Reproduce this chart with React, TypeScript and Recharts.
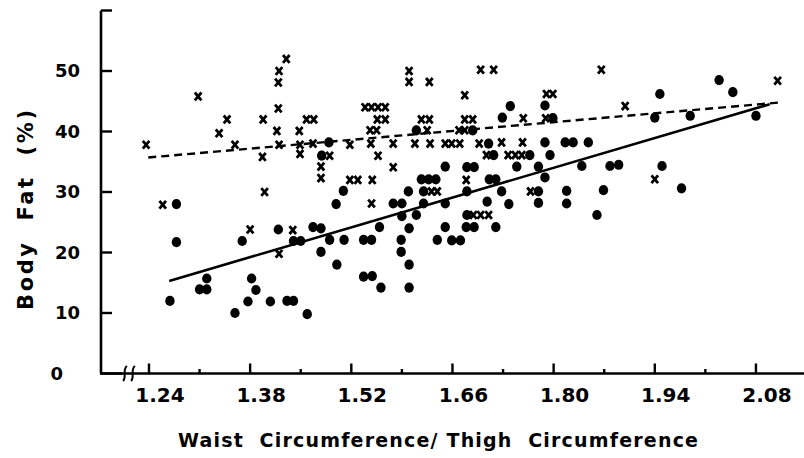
import React from 'react';
import { ScatterChart, Scatter, XAxis, YAxis, ReferenceLine, Customized } from 'recharts';

const xTicks = [1.24, 1.31, 1.38, 1.45, 1.52, 1.59, 1.66, 1.73, 1.8, 1.87, 1.94, 2.01, 2.08];
const xTickLabels = ['1.24', '', '1.38', '', '1.52', '', '1.66', '', '1.80', '', '1.94', '', '2.08'];
const yTicks = [0, 10, 20, 30, 40, 50, 60];
const yTickLabels = ['0', '10', '20', '30', '40', '50', ''];

// subjects plotted as filled circles: [waist/thigh ratio, body fat %]
const circlePoints: [number, number][] = [
  [1.269, 12.0], [1.278, 28.0], [1.278, 21.7], [1.31, 13.9], [1.32, 13.9], [1.32, 15.7],
  [1.359, 10.0], [1.369, 21.9], [1.377, 11.9], [1.382, 15.7], [1.388, 13.8], [1.408, 11.9],
  [1.419, 23.8], [1.431, 12.0], [1.44, 12.0], [1.44, 21.9], [1.45, 21.9], [1.459, 9.8],
  [1.467, 24.2], [1.478, 24.0], [1.478, 20.1], [1.479, 36.0], [1.489, 38.2], [1.49, 22.1],
  [1.499, 28.0], [1.5, 18.0], [1.509, 30.2], [1.51, 22.1], [1.537, 22.1], [1.548, 22.1],
  [1.537, 16.0], [1.549, 16.1], [1.559, 24.2], [1.561, 14.2], [1.578, 28.1], [1.59, 28.1],
  [1.59, 26.0], [1.589, 22.1], [1.589, 20.1], [1.599, 30.1], [1.6, 24.0], [1.6, 18.0],
  [1.6, 14.2], [1.61, 26.2], [1.61, 40.2], [1.617, 32.1], [1.627, 32.1], [1.637, 32.1],
  [1.62, 30.1], [1.62, 28.1], [1.639, 22.1], [1.65, 34.2], [1.65, 28.1], [1.65, 24.2],
  [1.659, 22.0], [1.671, 22.0], [1.68, 34.1], [1.69, 34.1], [1.68, 30.1], [1.68, 26.2],
  [1.679, 24.2], [1.69, 24.2], [1.688, 40.2], [1.708, 28.4], [1.71, 38.0], [1.711, 32.1],
  [1.72, 32.1], [1.717, 36.1], [1.72, 24.2], [1.728, 30.1], [1.729, 42.3], [1.738, 28.0],
  [1.74, 44.2], [1.749, 34.2], [1.767, 36.1], [1.779, 34.2], [1.779, 30.1], [1.779, 28.2],
  [1.788, 44.3], [1.788, 38.2], [1.788, 32.4], [1.795, 36.1], [1.799, 42.2], [1.816, 38.2],
  [1.827, 38.2], [1.818, 30.2], [1.818, 28.1], [1.839, 34.3], [1.848, 38.2], [1.86, 26.2],
  [1.869, 30.3], [1.878, 34.3], [1.89, 34.5], [1.94, 42.3], [1.947, 46.2], [1.95, 34.3],
  [1.977, 30.6], [1.989, 42.6], [2.029, 48.5], [2.048, 46.5], [2.08, 42.6],
];

// subjects plotted as x marks
const crossPoints: [number, number][] = [
  [1.236, 37.8], [1.259, 27.9], [1.308, 45.8], [1.337, 39.7], [1.348, 42.0], [1.359, 37.8],
  [1.38, 23.8], [1.397, 35.8], [1.398, 42.0], [1.4, 30.0], [1.417, 40.1], [1.419, 43.8],
  [1.419, 48.1], [1.42, 50.0], [1.43, 52.0], [1.42, 37.8], [1.42, 19.8], [1.439, 23.7],
  [1.448, 40.1], [1.449, 37.8], [1.449, 36.3], [1.458, 42.0], [1.468, 42.0], [1.467, 38.0],
  [1.478, 34.2], [1.478, 32.3], [1.49, 36.0], [1.518, 37.8], [1.518, 32.0], [1.529, 32.0],
  [1.539, 44.0], [1.548, 44.0], [1.557, 44.0], [1.567, 44.0], [1.556, 42.0], [1.567, 42.0],
  [1.546, 40.2], [1.555, 40.2], [1.547, 38.0], [1.549, 32.0], [1.557, 36.0], [1.548, 28.1],
  [1.578, 38.0], [1.578, 34.1], [1.6, 50.0], [1.6, 48.2], [1.628, 48.2], [1.617, 42.0],
  [1.628, 42.0], [1.625, 40.2], [1.608, 38.0], [1.629, 38.0], [1.65, 38.0], [1.659, 38.0],
  [1.67, 38.0], [1.631, 30.1], [1.639, 30.1], [1.669, 40.2], [1.677, 40.2], [1.677, 46.0],
  [1.677, 42.0], [1.688, 42.0], [1.679, 32.0], [1.689, 26.2], [1.699, 26.2], [1.71, 26.2],
  [1.697, 38.0], [1.699, 50.2], [1.717, 50.2], [1.707, 36.1], [1.728, 38.2], [1.737, 36.1],
  [1.747, 36.1], [1.756, 36.1], [1.757, 38.2], [1.758, 42.2], [1.768, 30.1], [1.789, 42.2],
  [1.79, 46.2], [1.799, 46.2], [1.866, 50.2], [1.899, 44.2], [1.94, 32.1], [2.11, 48.4],
];

// regression lines: [x, y] endpoints
const circleFit: [number, number][] = [[1.268, 15.3], [2.099, 44.5]];
const crossFit: [number, number][] = [[1.239, 35.7], [2.113, 44.8]];

const xTitle = 'Waist  Circumference/ Thigh  Circumference';
const yTitle = 'Body  Fat  (%)';

const FONT = "'DejaVu Sans', sans-serif";
const X_DOMAIN: [number, number] = [1.1736, 2.1465];
const Y_DOMAIN: [number, number] = [0, 60];

const circleData = circlePoints.map(([x, y]) => ({ x, y }));
const crossData = crossPoints.map(([x, y]) => ({ x, y }));

const CircleShape = (p: any) => <ellipse cx={p.cx} cy={p.cy} rx={4.7} ry={5.1} fill="#000" />;
const CrossShape = (p: any) => {
  const { cx, cy } = p;
  return (
    <path
      d={`M${cx - 3.3},${cy - 3.9}L${cx + 3.3},${cy + 3.9}M${cx + 3.3},${cy - 3.9}L${cx - 3.3},${cy + 3.9}`}
      stroke="#000"
      strokeWidth={2.8}
      fill="none"
    />
  );
};

const XTick = (p: any) => {
  const { x, y, index } = p;
  const label = xTickLabels[index];
  const major = label !== '';
  const len = major ? 10 : 4.5;
  return (
    <g>
      <rect x={x - 1.2} y={y - len} width={2.4} height={len} fill="#000" />
      {major && (
        <text x={x + 11} y={y + 28.5} textAnchor="middle" fontSize={20} fontWeight="bold" fontFamily={FONT} fill="#000">
          {label}
        </text>
      )}
    </g>
  );
};

const YTick = (p: any) => {
  const { x, y, index } = p;
  const label = yTickLabels[index];
  return (
    <g>
      {index > 0 && <rect x={x} y={y - 1.2} width={11} height={2.4} fill="#000" />}
      {label !== '' && (
        <text x={index === 0 ? x - 38 : x - 21} y={y} dy="0.36em" textAnchor="end" fontSize={18} fontWeight="bold" fontFamily={FONT} fill="#000">
          {label}
        </text>
      )}
    </g>
  );
};

const Decorations = () => (
  <g>
    <rect x={121} y={366} width={16} height={14} fill="#fff" />
    <path d="M100,373.5 L122,373.5" stroke="#000" strokeWidth={2.6} />
    <path d="M123,381 C127,378 122,369 127,366" stroke="#000" strokeWidth={2} fill="none" />
    <path d="M131,381 C135,378 130,369 135,366" stroke="#000" strokeWidth={2} fill="none" />
    <text
      x={33}
      y={210}
      transform="rotate(-90 33 210)"
      textAnchor="middle"
      fontSize={21}
      fontWeight="bold"
      fontFamily={FONT}
      textLength={200}
      lengthAdjust="spacing"
      style={{ whiteSpace: 'pre' }}
      fill="#000"
    >
      {yTitle}
    </text>
    <text
      x={178}
      y={447}
      fontSize={19}
      fontWeight="bold"
      fontFamily={FONT}
      textLength={520}
      lengthAdjust="spacing"
      style={{ whiteSpace: 'pre' }}
      fill="#000"
    >
      {xTitle}
    </text>
  </g>
);

export default function App() {
  return (
    <div style={{ position: 'absolute', left: 0, top: 0, width: 804, height: 458, background: '#fff' }}>
      <ScatterChart width={804} height={458} margin={{ top: 10.5, right: 0, bottom: 0, left: 0 }}>
        <XAxis
          type="number"
          dataKey="x"
          domain={X_DOMAIN}
          allowDataOverflow
          ticks={xTicks}
          interval={0}
          height={84.5}
          tickSize={0}
          tickMargin={0}
          tickLine={false}
          axisLine={{ stroke: '#000', strokeWidth: 2.6 }}
          tick={<XTick />}
        />
        <YAxis
          type="number"
          dataKey="y"
          domain={Y_DOMAIN}
          allowDataOverflow
          ticks={yTicks}
          interval={0}
          width={101}
          tickSize={0}
          tickMargin={0}
          tickLine={false}
          axisLine={{ stroke: '#000', strokeWidth: 2.6 }}
          tick={<YTick />}
        />
        <ReferenceLine
          segment={[{ x: crossFit[0][0], y: crossFit[0][1] }, { x: crossFit[1][0], y: crossFit[1][1] }]}
          stroke="#000"
          strokeWidth={2.4}
          strokeDasharray="8 5"
          ifOverflow="visible"
        />
        <ReferenceLine
          segment={[{ x: circleFit[0][0], y: circleFit[0][1] }, { x: circleFit[1][0], y: circleFit[1][1] }]}
          stroke="#000"
          strokeWidth={2.6}
          ifOverflow="visible"
        />
        <Scatter data={crossData} shape={<CrossShape />} isAnimationActive={false} />
        <Scatter data={circleData} shape={<CircleShape />} isAnimationActive={false} />
        <Customized component={<Decorations />} />
      </ScatterChart>
    </div>
  );
}
